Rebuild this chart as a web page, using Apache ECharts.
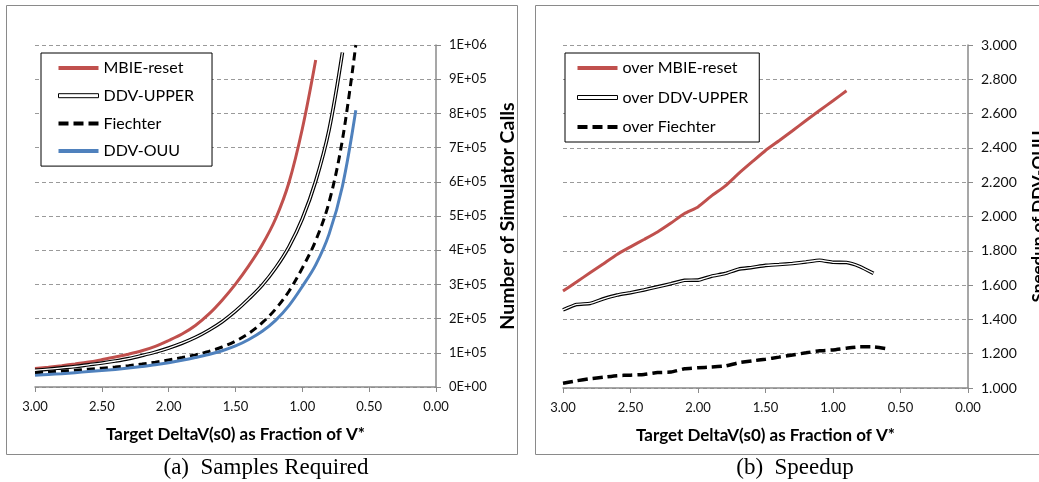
<!DOCTYPE html>
<html>
<head>
<meta charset="utf-8">
<script src="https://cdn.jsdelivr.net/npm/echarts@6/dist/echarts.min.js"></script>
<style>
  html, body { margin: 0; padding: 0; background: #fff; }
  #main { width: 1039px; height: 482px; }
</style>
</head>
<body>
<div id="main"></div>
<script>
// target DeltaV(s0) as fraction of V*  (x values, shared by all series)
var deltaV = [3.0, 2.9, 2.8, 2.7, 2.6, 2.5, 2.4, 2.3, 2.2, 2.1, 2.0, 1.9, 1.8, 1.7, 1.6, 1.5, 1.4, 1.3, 1.2, 1.1, 1.0, 0.9, 0.8, 0.7, 0.6];

// (a) samples required
var mbieReset = [54000, 58000, 62500, 67500, 73000, 80000, 87500, 96000, 106000, 119000, 136000, 155000, 180000, 213000, 254000, 301000, 355000, 416000, 492000, 598000, 755000, 956000];
var ddvUpper = [49000, 52000, 56000, 60000, 65000, 70000, 76000, 83000, 92000, 102000, 114000, 128000, 145000, 166000, 191000, 222000, 258000, 298000, 348000, 410000, 492000, 602000, 752000, 978000];
var fiechter = [42000, 44000, 46500, 49000, 52000, 55000, 58500, 62500, 67000, 72500, 79000, 86000, 94000, 104000, 117000, 134000, 157000, 188000, 228000, 280000, 348000, 428000, 540000, 723000, 1000000];
var ddvOuu = [34000, 36500, 39000, 42000, 45000, 48000, 51500, 55500, 60000, 65000, 71000, 78000, 86000, 95000, 106000, 120000, 139000, 163000, 195000, 238000, 294000, 357000, 447000, 587000, 809000];

// (b) speedup of DDV-OUU
var overMbie = [1.565, 1.618, 1.672, 1.725, 1.779, 1.823, 1.866, 1.91, 1.962, 2.017, 2.056, 2.12, 2.177, 2.25, 2.318, 2.385, 2.442, 2.5, 2.56, 2.618, 2.675, 2.733];
var overUpper = [1.455, 1.487, 1.493, 1.52, 1.542, 1.556, 1.572, 1.59, 1.608, 1.628, 1.629, 1.652, 1.667, 1.693, 1.703, 1.715, 1.72, 1.726, 1.735, 1.745, 1.733, 1.732, 1.708, 1.668];
var overFiechter = [1.028, 1.042, 1.054, 1.063, 1.072, 1.075, 1.079, 1.09, 1.093, 1.112, 1.118, 1.122, 1.128, 1.147, 1.158, 1.168, 1.18, 1.193, 1.205, 1.217, 1.222, 1.232, 1.24, 1.24, 1.229];

var SANS = 'Lato, "Liberation Sans", sans-serif';
var RED = '#C0504D', BLUE = '#4F81BD';
var AXIS_GRAY = '#8a8a8a';

function pairs(vals) {
  return vals.map(function (v, i) { return [deltaV[i], v]; });
}

function sciLabel(v) {
  if (v === 0) return '0E+00';
  var s = v.toExponential(0).toUpperCase();   // e.g. 1E+5
  return s.replace(/E([+-])(\d)$/, 'E$10$2');
}

function xAxisCfg(gridIndex) {
  return {
    gridIndex: gridIndex,
    type: 'value', min: 0, max: 3, interval: 0.5, inverse: true,
    name: 'Target DeltaV(s0) as Fraction of V*',
    nameLocation: 'middle', nameGap: 39,
    nameTextStyle: { fontFamily: SANS, fontSize: 17, fontWeight: 'bold', color: '#000' },
    axisLine: { lineStyle: { color: AXIS_GRAY, width: 1.5 } },
    axisTick: { show: true, length: 5, lineStyle: { color: AXIS_GRAY } },
    axisLabel: { fontFamily: SANS, fontSize: 13, color: '#111', margin: 13,
      formatter: function (v) { return v.toFixed(2); } },
    splitLine: { show: false }
  };
}

function yAxisCfg(gridIndex, opts) {
  return {
    gridIndex: gridIndex,
    type: 'value', position: 'right',
    min: opts.min, max: opts.max, interval: opts.interval,
    name: opts.name, nameLocation: 'middle', nameRotate: 90, nameGap: opts.nameGap,
    nameTextStyle: { fontFamily: SANS, fontSize: opts.nameSize, fontWeight: 'bold', color: '#000' },
    axisLine: { show: true, lineStyle: { color: AXIS_GRAY, width: 1.5 } },
    axisTick: { show: true, length: 5, lineStyle: { color: AXIS_GRAY } },
    axisLabel: { fontFamily: SANS, fontSize: opts.labelSize, color: '#111', margin: 13, formatter: opts.fmt },
    splitLine: { show: true, lineStyle: { color: '#9a9a9a', type: [4, 3], width: 1 } }
  };
}

function lineSeries(name, xi, vals, color, width, extra) {
  var s = {
    name: name, type: 'line', xAxisIndex: xi, yAxisIndex: xi,
    data: pairs(vals), symbol: 'none', showSymbol: false,
    smooth: xi === 0 ? 0.35 : 0.15,
    lineStyle: { color: color, width: width },
    itemStyle: { color: color },
    emphasis: { disabled: true }
  };
  if (extra) {
    for (var k in extra) s.lineStyle[k] = extra[k];
  }
  return s;
}

// legend swatches drawn as 40x4 shapes
var solidIcon = 'path://M0,0L40,0L40,4L0,4Z';
var dashIcon = 'path://M0,0h10v4h-10z M15,0h10v4h-10z M30,0h10v4h-10z';
function legendItem(name, icon, fill, stroke) {
  var st = { color: fill, borderWidth: 0 };
  if (stroke) { st.borderColor = stroke; st.borderWidth = 1; }
  return { name: name, icon: icon, itemStyle: st };
}

var legendBase = {
  orient: 'vertical', itemWidth: 40, itemHeight: 14,
  backgroundColor: '#fff', borderColor: '#000', borderWidth: 1, borderRadius: 0,
  textStyle: { fontFamily: SANS, fontSize: 16, color: '#000' },
  selectedMode: false
};

var chart = echarts.init(document.getElementById('main'), null, { renderer: 'canvas' });

chart.setOption({
  animation: false,
  backgroundColor: '#fff',
  grid: [
    { left: 35, top: 45, width: 401, height: 342, outerBoundsMode: 'none', containLabel: false },
    { left: 563, top: 45, width: 405, height: 343, outerBoundsMode: 'none', containLabel: false }
  ],
  xAxis: [xAxisCfg(0), xAxisCfg(1)],
  yAxis: [
    yAxisCfg(0, { min: 0, max: 1000000, interval: 100000, name: 'Number of Simulator Calls', nameGap: 62,
      nameSize: 19.5, labelSize: 13, fmt: sciLabel }),
    yAxisCfg(1, { min: 1, max: 3, interval: 0.2, name: 'Speedup of DDV-OUU', nameGap: 62,
      nameSize: 17, labelSize: 14, fmt: function (v) { return v.toFixed(3); } })
  ],
  legend: [
    Object.assign({}, legendBase, {
      left: 41, top: 53, padding: [7, 18, 7, 17], itemGap: 11.7,
      data: [
        legendItem('MBIE-reset', solidIcon, RED),
        legendItem('DDV-UPPER', solidIcon, '#fff', '#000'),
        legendItem('Fiechter', dashIcon, '#000'),
        legendItem('DDV-OUU', solidIcon, BLUE)
      ]
    }),
    Object.assign({}, legendBase, {
      left: 565, top: 53, padding: [7, 11, 7, 12], itemGap: 13.5,
      data: [
        legendItem('over MBIE-reset', solidIcon, RED),
        legendItem('over DDV-UPPER', solidIcon, '#fff', '#000'),
        legendItem('over Fiechter', dashIcon, '#000')
      ]
    })
  ],
  series: [
    lineSeries('MBIE-reset', 0, mbieReset, RED, 3),
    lineSeries('DDV-UPPER', 0, ddvUpper, '#000', 3.6),
    lineSeries('DDV-UPPER inner', 0, ddvUpper, '#fff', 1.3),
    lineSeries('Fiechter', 0, fiechter, '#000', 3, { type: [8, 5] }),
    lineSeries('DDV-OUU', 0, ddvOuu, BLUE, 3),

    lineSeries('over MBIE-reset', 1, overMbie, RED, 3),
    lineSeries('over DDV-UPPER', 1, overUpper, '#000', 3.6),
    lineSeries('over DDV-UPPER inner', 1, overUpper, '#fff', 1.3),
    lineSeries('over Fiechter', 1, overFiechter, '#000', 3.5, { type: [10, 5] })
  ],
  graphic: [
    { type: 'rect', z: -1, silent: true, shape: { x: 6.5, y: 5.5, width: 511, height: 449 },
      style: { fill: 'none', stroke: AXIS_GRAY, lineWidth: 1 } },
    { type: 'rect', z: -1, silent: true, shape: { x: 535.5, y: 5.5, width: 520, height: 449 },
      style: { fill: 'none', stroke: AXIS_GRAY, lineWidth: 1 } },
    { type: 'text', silent: true, x: 266, y: 468,
      style: { text: '(a)  Samples Required', font: '23px "Liberation Serif", "Times New Roman", serif',
        fill: '#000', textAlign: 'center', textVerticalAlign: 'middle', verticalAlign: 'middle' } },
    { type: 'text', silent: true, x: 795, y: 468,
      style: { text: '(b)  Speedup', font: '23px "Liberation Serif", "Times New Roman", serif',
        fill: '#000', textAlign: 'center', textVerticalAlign: 'middle', verticalAlign: 'middle' } }
  ]
});
</script>
</body>
</html>
